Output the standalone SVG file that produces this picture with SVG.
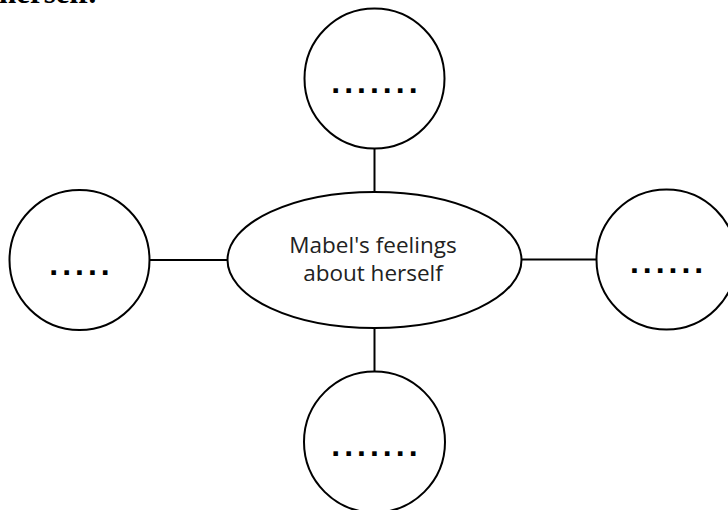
<svg xmlns="http://www.w3.org/2000/svg" width="728" height="510" viewBox="0 0 728 510">
<style>
.shape{fill:#fff;stroke:#000;stroke-width:2}
.conn line{stroke:#000;stroke-width:2}
.dots{font-family:"Liberation Sans",Arial,sans-serif;font-weight:bold;font-size:32px;letter-spacing:4px;fill:#000}
.lbl{font-family:"Open Sans","Liberation Sans",sans-serif;font-size:22.5px;fill:#222;text-anchor:middle}
.head{font-family:"Liberation Serif","Times New Roman",serif;font-weight:bold;font-size:31px;fill:#000}
</style>
<rect width="728" height="510" fill="#fff"/>
<text class="head" x="-1" y="2.5">herself.</text>
<g id="connectors" class="conn">
<line x1="374.5" y1="148" x2="374.5" y2="192"/>
<line x1="374.5" y1="328" x2="374.5" y2="372"/>
<line x1="149" y1="260" x2="228" y2="260"/>
<line x1="521" y1="259.5" x2="597" y2="259.5"/>
</g>
<g id="center">
<ellipse class="shape" cx="374.5" cy="260" rx="147" ry="68"/>
<text class="lbl"><tspan x="373" y="252.5">Mabel's feelings</tspan><tspan x="373" y="281">about herself</tspan></text>
</g>
<g id="top">
<circle class="shape" cx="374.5" cy="78.5" r="70"/>
<text class="dots" x="331.3" y="93">.......</text>
</g>
<g id="left">
<circle class="shape" cx="79.5" cy="260" r="70"/>
<text class="dots" x="49.3" y="274.6">.....</text>
</g>
<g id="right">
<circle class="shape" cx="666.5" cy="259.5" r="70"/>
<text class="dots" x="629.9" y="273.3">......</text>
</g>
<g id="bottom">
<circle class="shape" cx="374.5" cy="442" r="70.5"/>
<text class="dots" x="331.3" y="456.3">.......</text>
</g>
</svg>
